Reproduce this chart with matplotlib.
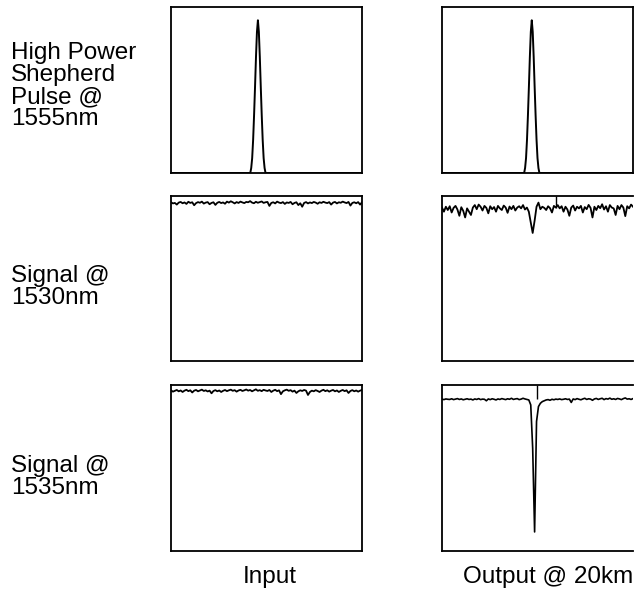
import numpy as np
import matplotlib
matplotlib.use("Agg")
import matplotlib.pyplot as plt

plt.rcParams['font.family'] = ['Liberation Sans', 'DejaVu Sans']

# row / column labels
row_labels = ["High Power\nShepherd\nPulse @\n1555nm", "Signal @\n1530nm", "Signal @\n1535nm"]
col_labels = ["Input", "Output @ 20km"]

# pump pulse: shape around the peak (offset in % of window, height)
pulse_offset = [-4.0, -3.5, -3.0, -2.5, -2.0, -1.5, -1.0, -0.5, 0.0, 0.5, 1.0, 1.5, 2.0, 2.5, 3.0, 3.5, 4.0]
pulse_height = [0.0, 0.03, 0.09, 0.20, 0.35, 0.52, 0.70, 0.85, 0.92, 0.85, 0.70, 0.52, 0.35, 0.20, 0.09, 0.03, 0.0]
pulse_peak = [45.5, 47.0]  # input, output

# signal traces (fraction of full scale)
in_1530 = [0.962, 0.955, 0.958, 0.948, 0.960, 0.964, 0.956, 0.961, 0.952, 0.965,
           0.958, 0.962, 0.944, 0.957, 0.963, 0.959, 0.966, 0.954, 0.960, 0.963,
           0.950, 0.958, 0.962, 0.946, 0.959, 0.964, 0.957, 0.961, 0.953, 0.966,
           0.960, 0.968, 0.962, 0.955, 0.963, 0.958, 0.966, 0.961, 0.957, 0.964,
           0.962, 0.969, 0.960, 0.956, 0.965, 0.959, 0.963, 0.967, 0.958, 0.962,
           0.964, 0.940, 0.958, 0.962, 0.955, 0.966, 0.960, 0.957, 0.963, 0.952,
           0.961, 0.958, 0.964, 0.950, 0.958, 0.962, 0.945, 0.956, 0.935, 0.958,
           0.963, 0.955, 0.961, 0.957, 0.964, 0.960, 0.953, 0.962, 0.958, 0.965,
           0.960, 0.957, 0.963, 0.948, 0.960, 0.964, 0.955, 0.962, 0.959, 0.966,
           0.961, 0.957, 0.964, 0.942, 0.958, 0.962, 0.956, 0.963, 0.948, 0.962]

out_1530 = [0.930, 0.905, 0.935, 0.915, 0.938, 0.900, 0.928, 0.940, 0.918, 0.880,
            0.932, 0.910, 0.870, 0.925, 0.905, 0.885, 0.930, 0.945, 0.920, 0.948,
            0.935, 0.912, 0.940, 0.928, 0.895, 0.938, 0.920, 0.933, 0.905, 0.940,
            0.925, 0.915, 0.942, 0.930, 0.898, 0.936, 0.920, 0.940, 0.912, 0.930,
            0.938, 0.925, 0.945, 0.918, 0.930, 0.905, 0.840, 0.776, 0.850, 0.935,
            0.960, 0.920, 0.935, 0.928, 0.915, 0.938, 0.926, 0.900, 0.940, 0.930,
            0.945, 0.925, 0.938, 0.905, 0.935, 0.918, 0.880, 0.930, 0.942, 0.912,
            0.935, 0.925, 0.940, 0.900, 0.933, 0.920, 0.946, 0.928, 0.870, 0.935,
            0.915, 0.940, 0.926, 0.950, 0.918, 0.938, 0.905, 0.945, 0.930, 0.925,
            0.885, 0.940, 0.920, 0.945, 0.930, 0.878, 0.938, 0.925, 0.948, 0.935]

in_1535 = [0.968, 0.960, 0.965, 0.970, 0.962, 0.967, 0.958, 0.966, 0.971, 0.963,
           0.968, 0.955, 0.966, 0.970, 0.962, 0.967, 0.972, 0.964, 0.968, 0.961,
           0.966, 0.950, 0.964, 0.969, 0.962, 0.967, 0.958, 0.965, 0.970, 0.963,
           0.968, 0.972, 0.965, 0.969, 0.960, 0.967, 0.971, 0.964, 0.968, 0.973,
           0.966, 0.970, 0.962, 0.968, 0.974, 0.965, 0.969, 0.963, 0.971, 0.967,
           0.964, 0.970, 0.958, 0.966, 0.971, 0.963, 0.968, 0.945, 0.962, 0.968,
           0.972, 0.965, 0.969, 0.960, 0.966, 0.952, 0.962, 0.968, 0.964, 0.970,
           0.966, 0.940, 0.958, 0.966, 0.962, 0.969, 0.964, 0.958, 0.966, 0.971,
           0.963, 0.968, 0.960, 0.966, 0.970, 0.962, 0.967, 0.958, 0.965, 0.970,
           0.963, 0.968, 0.952, 0.964, 0.969, 0.962, 0.967, 0.960, 0.966, 0.970]

out_1535 = [0.915, 0.912, 0.916, 0.914, 0.913, 0.917, 0.912, 0.915, 0.918, 0.913,
            0.916, 0.911, 0.914, 0.917, 0.913, 0.915, 0.910, 0.916, 0.913, 0.918,
            0.912, 0.915, 0.914, 0.905, 0.916, 0.912, 0.917, 0.914, 0.910, 0.916,
            0.913, 0.918, 0.915, 0.912, 0.917, 0.914, 0.920, 0.913, 0.916, 0.918,
            0.912, 0.915, 0.920, 0.916, 0.913, 0.910, 0.880, 0.620, 0.115, 0.780,
            0.870, 0.890, 0.900, 0.905, 0.910, 0.912, 0.908, 0.914, 0.911, 0.915,
            0.913, 0.916, 0.912, 0.914, 0.917, 0.913, 0.915, 0.895, 0.916, 0.912,
            0.918, 0.914, 0.911, 0.916, 0.920, 0.913, 0.917, 0.915, 0.908, 0.916,
            0.919, 0.913, 0.917, 0.920, 0.912, 0.918, 0.915, 0.921, 0.914, 0.917,
            0.913, 0.919, 0.916, 0.912, 0.918, 0.922, 0.915, 0.917, 0.913, 0.918]

# thin vertical marks running from the trace up to the frame (x in %, level)
out_1530_mark = (59.5, 0.93)
out_1535_mark = (49.6, 0.915)

W, H = 634, 593
fig = plt.figure(figsize=(W / 100, H / 100), dpi=100)

col_x = [171, 442]
rows_y = [(7, 173), (196, 361), (385, 551)]
panel_w = 191


def make_ax(col, row, hide_right=False):
    x0 = col_x[col]
    y0, y1 = rows_y[row]
    ax = fig.add_axes([x0 / W, 1 - y1 / H, panel_w / W, (y1 - y0) / H])
    ax.set_xlim(0, 100)
    ax.set_ylim(0, 1)
    ax.set_xticks([])
    ax.set_yticks([])
    for s in ax.spines.values():
        s.set_linewidth(1.3)
        s.set_color('black')
    if hide_right:
        ax.spines['right'].set_visible(False)
    return ax


def trace_x(vals):
    return np.linspace(0, 100, len(vals))


# row 1: pulses
for col in range(2):
    ax = make_ax(col, 0)
    px = [0] + [pulse_peak[col] + o for o in pulse_offset] + [100]
    py = [0] + pulse_height + [0]
    ax.plot(px, py, color='black', lw=1.4)

# row 2: 1530 nm
ax = make_ax(0, 1)
ax.plot(trace_x(in_1530), in_1530, color='black', lw=1.3)
ax = make_ax(1, 1, hide_right=True)
ax.plot(trace_x(out_1530), out_1530, color='black', lw=1.3)
ax.vlines(out_1530_mark[0], out_1530_mark[1], 1, color='black', lw=1.0)

# row 3: 1535 nm
ax = make_ax(0, 2)
ax.plot(trace_x(in_1535), in_1535, color='black', lw=1.3)
ax = make_ax(1, 2, hide_right=True)
ax.plot(trace_x(out_1535), out_1535, color='black', lw=1.2)
ax.vlines(out_1535_mark[0], out_1535_mark[1], 1, color='black', lw=1.0)

# labels
label_y = [86, 287, 477]
for lab, yy in zip(row_labels, label_y):
    fig.text(11 / W, 1 - yy / H, lab, ha='left', va='center', fontsize=17.5,
             linespacing=1.0)

fig.text(270 / W, 1 - 577 / H, col_labels[0], ha='center', va='center', fontsize=17.5)
fig.text(548 / W, 1 - 577 / H, col_labels[1], ha='center', va='center', fontsize=17.5)

fig.savefig("out.png", dpi=100)
